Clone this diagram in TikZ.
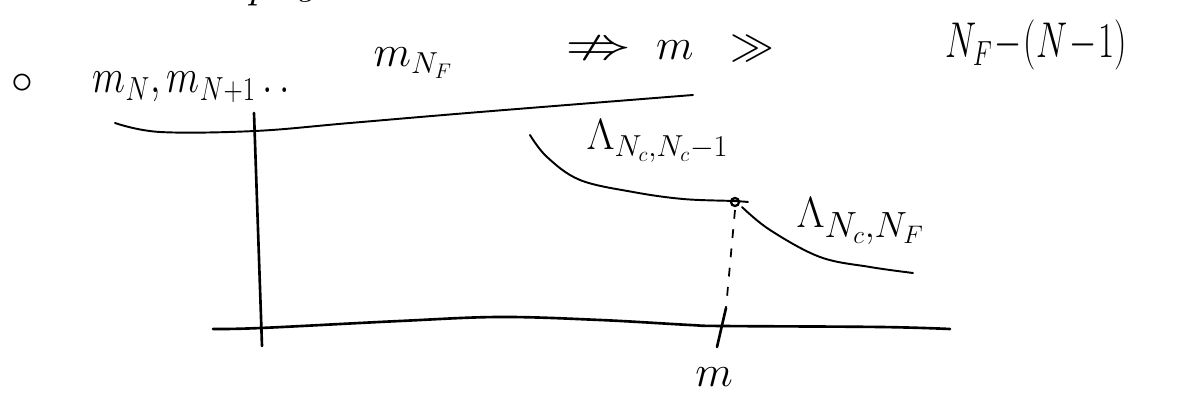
\documentclass[tikz,border=0pt]{standalone}
\usepackage{amsmath,amssymb}
\usetikzlibrary{calc}

\begin{document}
\begin{tikzpicture}[x=0.02cm, y=-0.02cm, thick,
  hand/.style={font=\fontsize{26}{30}\selectfont, inner sep=0pt},
  curve/.style={line width=1.1pt, line cap=round},
  axisline/.style={line width=1.5pt, line cap=round}]
  \useasboundingbox (0,0) rectangle (1197,404);
  \coordinate (Ytop) at (254,113);
  \coordinate (Ybot) at (262,346);
  \coordinate (Q) at (735,202);
  \coordinate (Mtop) at (726,308);
  \coordinate (Mbot) at (717,347);
  % cut-off line above
  \node[hand, anchor=base] (p) at (260,-2) {$p$};
  \node[hand, anchor=base] (g) at (310,-6) {$g$};
  % top line of text
  \node[hand] (bullet) at (22,84) {$\circ$};
  \node[hand, anchor=base west] (mlist) at (92,93) {\scalebox{0.88}[1.1]{$m_N,m_{N+1}\,.\,.$}};
  \node[hand, anchor=base west] (mNF) at (373,67) {$m_{N_F}$};
  \node[hand, anchor=base west] (imp) at (565,60) {\scalebox{1.45}[1]{$\nRightarrow$}$\;\; m \;\;\gg$};
  \node[hand, anchor=base west] (NF) at (945,58) {\scalebox{0.8}[1.15]{$N_F\!-\!(N\!-\!1)$}};
  % upper curve
  \draw[curve] plot[smooth, tension=0.6] coordinates {(115,123) (160,132) (255,131) (350,123) (480,112) (693,95)};
  % axes
  \draw[axisline] (Ytop) -- (Ybot);
  \draw[axisline] plot[smooth, tension=0.6] coordinates {(213,329) (261,328) (400,321) (500,317) (600,320) (690,325) (722,326) (880,327) (950,329)};
  \draw[axisline] (Mtop) -- (Mbot);
  \node[hand] (m) at (714,377) {$m$};
  % the two pieces
  \draw[curve] plot[smooth, tension=0.6] coordinates {(530,135) (547,157) (580,180) (633,192) (683,199) (733,201) (748,202)};
  \draw[curve] plot[smooth, tension=0.6] coordinates {(742,207) (770,230) (820,257) (870,267) (913,273)};
  \draw[line width=1.3pt] (Q) circle[radius=4];
  \draw[line width=1pt, dash pattern=on 5pt off 6pt] ($(Q)+(0,8)$) -- (Mtop);
  \node[hand, anchor=base west] (L1) at (586,150) {$\Lambda_{N_c,N_c-1}$};
  \node[hand, anchor=base west, font=\fontsize{30}{34}\selectfont] (L2) at (796,228) {$\Lambda_{N_c,N_F}$};
\end{tikzpicture}
\end{document}
